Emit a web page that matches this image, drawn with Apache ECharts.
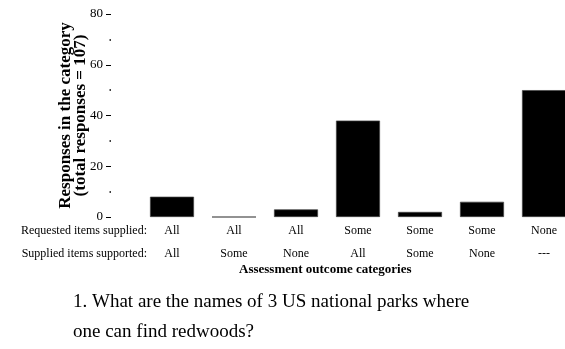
<!DOCTYPE html>
<html>
<head>
<meta charset="utf-8">
<script src="https://cdn.jsdelivr.net/npm/echarts@6/dist/echarts.min.js"></script>
<style>
  html, body { margin: 0; padding: 0; background: #fff; }
  #chart { width: 565px; height: 349px; }
</style>
</head>
<body>
<div id="chart"></div>
<script>
const serif = "'Liberation Serif', 'Times New Roman', serif";

// what was asked for vs. what was backed up
const requested = ['All', 'All', 'All', 'Some', 'Some', 'Some', 'None'];
const supported = ['All', 'Some', 'None', 'All', 'Some', 'None', '---'];
const responses = [8, 0, 3, 38, 2, 6, 50];
const yTicks = [0, 20, 40, 60, 80];

const categories = requested.map((r, i) => r + '\n' + supported[i]);

const chart = echarts.init(document.getElementById('chart'));

const option = {
  animation: false,
  textStyle: { fontFamily: serif, color: '#000' },
  grid: { left: 141, width: 434, top: 14, bottom: 132, outerBoundsMode: 'none' },
  xAxis: {
    type: 'category',
    data: categories,
    axisLine: { show: false },
    axisTick: { show: false },
    axisLabel: {
      interval: 0,
      margin: 2,
      fontFamily: serif,
      fontSize: 12,
      lineHeight: 23,
      color: '#000'
    }
  },
  yAxis: {
    type: 'value',
    min: yTicks[0],
    max: yTicks[yTicks.length - 1],
    interval: 20,
    offset: 30,
    name: 'Responses in the category\n(total responses = 107)',
    nameLocation: 'middle',
    nameGap: 23,
    nameMoveOverlap: false,
    nameTextStyle: {
      fontFamily: serif,
      fontSize: 17,
      fontWeight: 'bold',
      lineHeight: 15,
      color: '#000'
    },
    axisLine: { show: false },
    splitLine: { show: false },
    axisTick: { show: true, length: 5, lineStyle: { color: '#000', width: 1 } },
    minorTick: { show: true, splitNumber: 2, length: 1.5, lineStyle: { color: '#000', width: 1.5 } },
    axisLabel: {
      margin: 8,
      fontFamily: serif,
      fontSize: 13,
      color: '#000'
    }
  },
  series: [{
    type: 'bar',
    data: responses,
    barWidth: 44,
    itemStyle: { color: '#000', borderColor: '#444', borderWidth: 0.7 }
  }],
  graphic: [
    {
      type: 'text', right: 565 - 147, top: 225,
      style: { text: 'Requested items supplied:', font: '12px ' + serif, fill: '#000' }
    },
    {
      type: 'text', right: 565 - 147, top: 248,
      style: { text: 'Supplied items supported:', font: '12px ' + serif, fill: '#000' }
    },
    {
      type: 'text', left: 239, top: 263,
      style: { text: 'Assessment outcome categories', font: 'bold 13px ' + serif, fill: '#000' }
    },
    {
      type: 'text', left: 73, top: 287,
      style: {
        text: '1. What are the names of 3 US national parks where\none can find redwoods?',
        font: '19px ' + serif,
        lineHeight: 30,
        fill: '#000'
      }
    }
  ]
};

chart.setOption(option);
</script>
</body>
</html>
